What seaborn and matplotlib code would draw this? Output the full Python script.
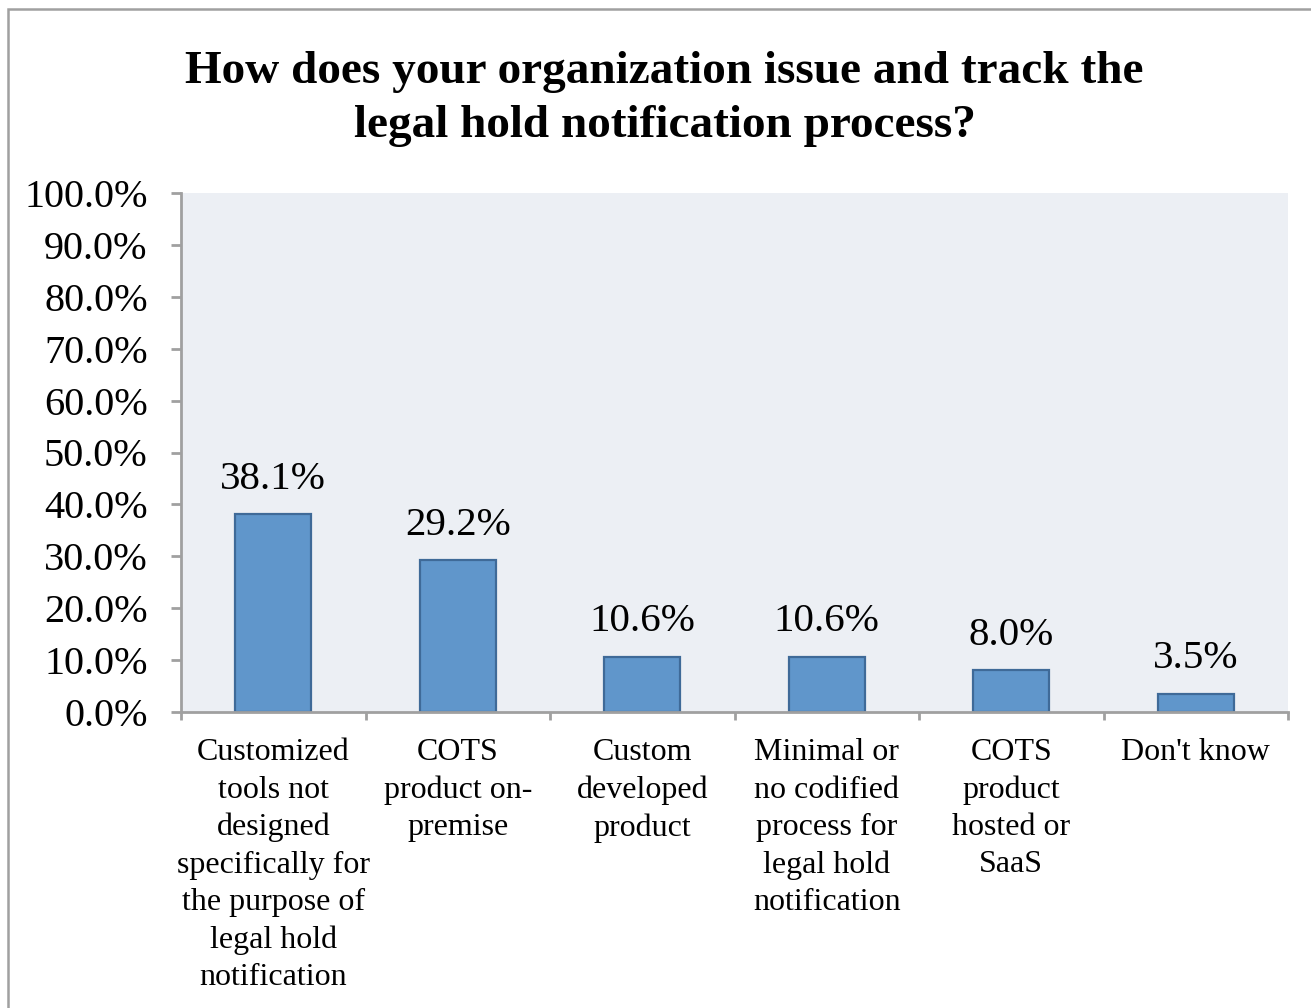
import numpy as np
import pandas as pd
import matplotlib
matplotlib.use("Agg")
import matplotlib.pyplot as plt
from matplotlib.patches import Rectangle
from matplotlib.ticker import FixedLocator
import seaborn as sns

# Data
categories = [
    "Customized\ntools not\ndesigned\nspecifically for\nthe purpose of\nlegal hold\nnotification",
    "COTS\nproduct on-\npremise",
    "Custom\ndeveloped\nproduct",
    "Minimal or\nno codified\nprocess for\nlegal hold\nnotification",
    "COTS\nproduct\nhosted or\nSaaS",
    "Don't know",
]
values = [38.1, 29.2, 10.6, 10.6, 8.0, 3.5]
yticks = [0, 10, 20, 30, 40, 50, 60, 70, 80, 90, 100]
title = "How does your organization issue and track the\nlegal hold notification process?"

sns.set_theme(style="white")
plt.rcParams["font.family"] = ["Liberation Serif", "DejaVu Serif"]
plt.rcParams["text.color"] = "black"
plt.rcParams["xtick.color"] = "black"
plt.rcParams["ytick.color"] = "black"

df = pd.DataFrame({"cat": categories, "val": values})

fig = plt.figure(figsize=(13.11, 10.08), dpi=100)
ax = fig.add_axes([181 / 1311, 1 - 712 / 1008, (1288 - 181) / 1311, (712 - 193) / 1008])

sns.barplot(data=df, x="cat", y="val", ax=ax, color="#6096cb", width=0.41,
            edgecolor="#3f6a98", linewidth=1.6, saturation=1)

ax.set_facecolor("#eceff4")
ax.set_ylim(0, 100)
ax.set_xlim(-0.5, len(categories) - 0.5)
ax.set_xlabel("")
ax.set_ylabel("")

axis_grey = "#a0a0a0"
for side in ["top", "right"]:
    ax.spines[side].set_visible(False)
for side in ["left", "bottom"]:
    ax.spines[side].set_color(axis_grey)
    ax.spines[side].set_linewidth(2)

ax.set_yticks(yticks)
ax.set_yticklabels([f"{v:.1f}%" for v in yticks], fontsize=29, color="black")
ax.tick_params(axis="y", length=7, width=2, color=axis_grey, pad=17, direction="out", left=True)

ax.set_xticks(range(len(categories)))
ax.set_xticklabels(categories, fontsize=23, linespacing=1.37, va="top", color="black")
ax.tick_params(axis="x", which="major", length=0, pad=19)
ax.xaxis.set_minor_locator(FixedLocator(np.arange(-0.5, len(categories), 1.0)))
ax.tick_params(axis="x", which="minor", length=6, width=2, color=axis_grey, direction="out", bottom=True)

for i, v in enumerate(values):
    ax.annotate(f"{v:.1f}%", (i, v), xytext=(0, 12), textcoords="offset points",
                ha="center", va="bottom", fontsize=29.5, color="black")

fig.text(0.507, 1 - 99 / 1008, title, ha="center", va="center", fontsize=34,
         fontweight="bold", linespacing=1.4, color="black")

fig.patches.append(Rectangle((8 / 1311, -0.1), 1.2, 1 - 9 / 1008 + 0.1, transform=fig.transFigure,
                             fill=False, edgecolor=axis_grey, linewidth=1.8))

fig.savefig("out.png", dpi=100)
